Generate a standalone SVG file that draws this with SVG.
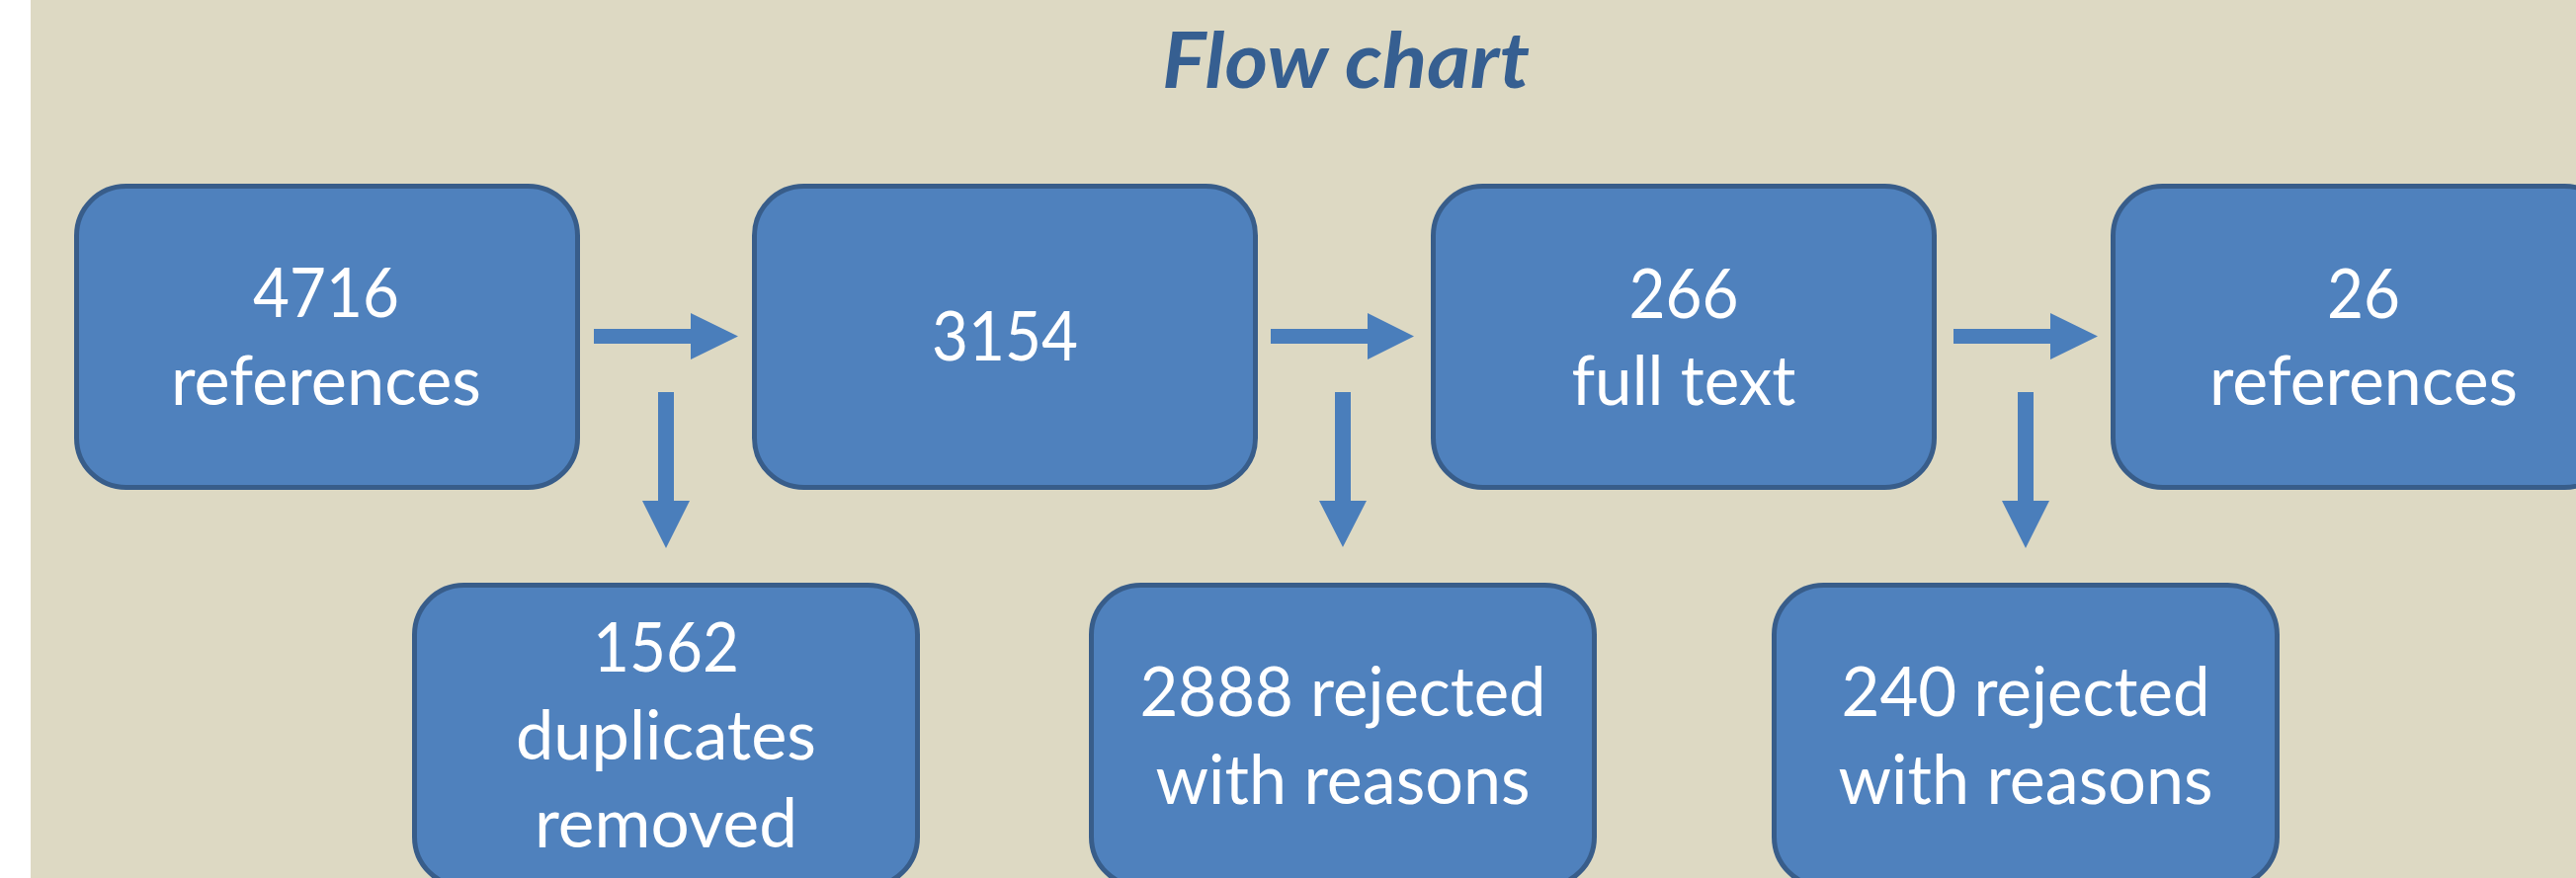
<svg xmlns="http://www.w3.org/2000/svg" width="2607" height="889" viewBox="0 0 2607 889">
<style>
.box{fill:#4f81bd;stroke:#385d8a;stroke-width:5}
.lbl{font-family:Lato,"Open Sans","Liberation Sans",sans-serif;font-size:70px;fill:#ffffff;text-anchor:middle}
.arr{fill:#4a7ebb}
.title{font-family:Lato,"Open Sans","Liberation Sans",sans-serif;font-size:78px;font-weight:bold;font-style:italic;fill:#365f91;text-anchor:middle}
</style>
<rect x="0" y="0" width="2607" height="889" fill="#ffffff"/>
<rect x="31" y="0" width="2576" height="889" fill="#ddd9c3"/>
<text class="title" x="1362" y="89" textLength="372" lengthAdjust="spacingAndGlyphs">Flow chart</text>
<g id="n1"><rect class="box" x="77.5" y="188.5" width="507" height="305" rx="50"/>
<text class="lbl" x="330" y="321" textLength="148" lengthAdjust="spacingAndGlyphs">4716</text>
<text class="lbl" x="330" y="410" textLength="314" lengthAdjust="spacingAndGlyphs">references</text></g>
<g id="n2"><rect class="box" x="763.5" y="188.5" width="507" height="305" rx="50"/>
<text class="lbl" x="1017" y="365" textLength="148" lengthAdjust="spacingAndGlyphs">3154</text></g>
<g id="n3"><rect class="box" x="1450.5" y="188.5" width="507" height="305" rx="50"/>
<text class="lbl" x="1704" y="322" textLength="111" lengthAdjust="spacingAndGlyphs">266</text>
<text class="lbl" x="1704" y="410" textLength="227" lengthAdjust="spacingAndGlyphs">full text</text></g>
<g id="n4"><rect class="box" x="2138.5" y="188.5" width="507" height="305" rx="50"/>
<text class="lbl" x="2392" y="322" textLength="74" lengthAdjust="spacingAndGlyphs">26</text>
<text class="lbl" x="2392" y="410" textLength="312" lengthAdjust="spacingAndGlyphs">references</text></g>
<g id="n5"><rect class="box" x="419.5" y="592.5" width="509" height="305" rx="50"/>
<text class="lbl" x="674" y="680" textLength="148" lengthAdjust="spacingAndGlyphs">1562</text>
<text class="lbl" x="674" y="769" textLength="304" lengthAdjust="spacingAndGlyphs">duplicates</text>
<text class="lbl" x="674" y="858" textLength="266" lengthAdjust="spacingAndGlyphs">removed</text></g>
<g id="n6"><rect class="box" x="1104.5" y="592.5" width="509" height="305" rx="50"/>
<text class="lbl" x="1359" y="725" textLength="411" lengthAdjust="spacingAndGlyphs">2888 rejected</text>
<text class="lbl" x="1359" y="814" textLength="379" lengthAdjust="spacingAndGlyphs">with reasons</text></g>
<g id="n7"><rect class="box" x="1795.5" y="592.5" width="509" height="305" rx="50"/>
<text class="lbl" x="2050" y="725" textLength="373" lengthAdjust="spacingAndGlyphs">240 rejected</text>
<text class="lbl" x="2050" y="814" textLength="379" lengthAdjust="spacingAndGlyphs">with reasons</text></g>
<g id="connectors">
<polygon class="arr" points="601,333 699,333 699,317 747,340.5 699,364 699,348 601,348"/>
<polygon class="arr" points="1286,333 1384,333 1384,317 1431,340.5 1384,364 1384,348 1286,348"/>
<polygon class="arr" points="1977,333 2075,333 2075,317 2123,340.5 2075,364 2075,348 1977,348"/>
<polygon class="arr" points="666,397 682,397 682,507 698,507 674,555 650,507 666,507"/>
<polygon class="arr" points="1351,397 1367,397 1367,507 1383,507 1359,554 1335,507 1351,507"/>
<polygon class="arr" points="2042,397 2058,397 2058,507 2074,507 2050,555 2026,507 2042,507"/>
</g>
</svg>
